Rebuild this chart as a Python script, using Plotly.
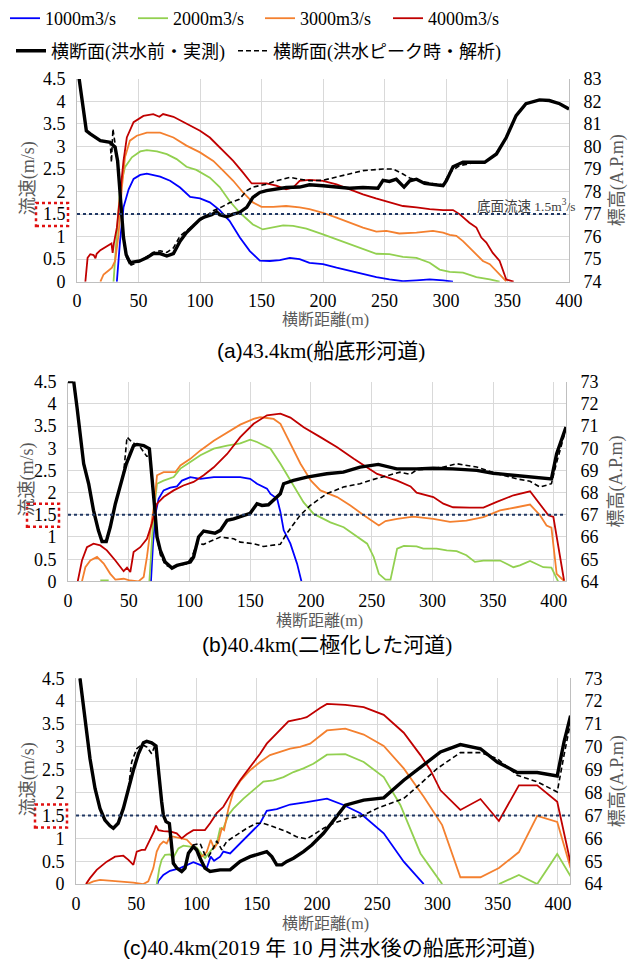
import plotly.graph_objects as go

# ---------------- DATA ----------------
SERIES = ["1000m3/s", "2000m3/s", "3000m3/s", "4000m3/s"]
BED_NAMES = ["横断面(洪水前・実測)", "横断面(洪水ピーク時・解析)"]
THRESHOLD = 1.5

# Panel (a) 43.4km
A_bed_x = [1.5, 7.6, 10.8, 19, 27, 31, 33, 35, 37.8, 40, 43, 51, 57, 62, 67.6, 73, 78.4, 83.8, 89, 94.6,
           100, 104, 109.5, 113.5, 116, 121.6, 127, 132, 138, 143, 148.6, 154, 162, 170, 181, 189, 200, 211,
           221.7, 232.5, 244.7, 248.8, 254, 259.6, 265.9, 270.5, 276, 282.6, 289.4, 297.6, 300.3, 305.7,
           313.8, 324.7, 331.4, 341, 349, 357, 365, 376, 384, 392.4, 400]
A_bed_e = [83.1, 80.7, 80.56, 80.26, 80.19, 79.96, 79.37, 77.9, 75.96, 75.2, 74.85, 74.92, 75.07, 75.25, 75.25,
           75.14, 75.25, 75.8, 76.18, 76.48, 76.77, 76.88, 76.97, 77.1, 76.97, 76.88, 77.0, 77.07, 77.3, 77.74,
           77.96, 78.04, 78.1, 78.18, 78.2, 78.3, 78.26, 78.2, 78.15, 78.18, 78.15, 78.5, 78.45, 78.55, 78.2,
           78.48, 78.55, 78.36, 78.3, 78.26, 78.48, 79.1, 79.3, 79.3, 79.3, 79.67, 80.4, 81.37, 81.9, 82.07,
           82.04, 81.9, 81.67]
A_peak_x = [1.5, 7.6, 10.8, 19, 27, 28, 29.2, 31, 33, 35, 37.8, 40, 44, 51, 57, 62, 67.6, 73, 78.4, 83.8,
            91, 100, 110.8, 117, 124, 132, 138, 143, 154, 162, 173, 181, 189, 200, 216, 232.5, 248.8, 257, 265,
            270.5, 278.6, 289, 297.6, 303, 311, 319, 324.7, 331.4, 341, 349, 357, 365, 376, 384, 392.4, 400]
A_peak_e = [83.1, 80.7, 80.56, 80.26, 80.19, 79.3, 80.78, 80.0, 79.37, 77.9, 75.96, 75.1, 74.74, 74.9, 75.1,
            75.3, 75.37, 75.3, 75.5, 76.03, 76.35, 76.7, 77.15, 77.3, 77.5, 77.66, 78.04, 78.2, 78.33, 78.48,
            78.63, 78.55, 78.48, 78.5, 78.7, 78.93, 79.0, 79.0, 78.78, 78.6, 78.48, 78.36, 78.3, 78.85, 79.15,
            79.25, 79.3, 79.3, 79.67, 80.4, 81.37, 81.9, 82.07, 82.04, 81.9, 81.67]
A_q1000_x = [32.4, 35, 37.8, 42, 46, 51.4, 56.8, 67.6, 75.7, 83.8, 92, 100, 108, 116, 124, 132.4, 140.5, 148.6,
             156.8, 164.9, 173, 181, 189, 200, 211, 221.7, 232.5, 243.4, 254, 265, 276, 286.7, 297.6, 305.7]
A_q1000_v = [0, 0.9, 1.65, 2.05, 2.28, 2.37, 2.4, 2.33, 2.24, 2.09, 1.88, 1.85, 1.76, 1.59, 1.35, 0.98, 0.68,
             0.47, 0.46, 0.48, 0.53, 0.5, 0.42, 0.39, 0.31, 0.24, 0.18, 0.1, 0.05, 0.01, 0.03, 0.05, 0.03, 0]
A_q2000_x = [29.7, 31, 32.4, 35, 39, 44.6, 51.4, 56.8, 65, 73, 81, 89, 97, 108, 116, 124, 132.4, 143, 151,
             156.8, 167.6, 175.7, 186.5, 200, 211, 221.7, 232.5, 243.4, 254, 265, 276, 286.7, 294.8, 303,
             313.8, 324.7, 335.6, 343.6]
A_q2000_v = [0, 0.53, 1.2, 2.09, 2.54, 2.76, 2.89, 2.92, 2.89, 2.83, 2.72, 2.55, 2.48, 2.31, 2.1, 1.79, 1.53,
             1.27, 1.16, 1.19, 1.25, 1.24, 1.18, 1.05, 0.94, 0.83, 0.72, 0.62, 0.61, 0.55, 0.53, 0.42, 0.27,
             0.22, 0.2, 0.1, 0.05, 0]
A_q3000_x = [19, 21.6, 25.7, 28.4, 31, 33.8, 36.5, 39, 43, 48.6, 56.8, 67.6, 78.4, 89, 100, 110.8, 119, 127,
             135, 143, 150, 159.5, 170, 181, 189, 200, 211, 221.7, 232.5, 243.4, 251.5, 262, 276, 289.4, 297.6,
             303, 308.4, 313.8, 322, 330, 335.6, 341, 349]
A_q3000_v = [0, 0.16, 0.25, 0.31, 0.46, 1.05, 2.09, 2.76, 3.13, 3.24, 3.31, 3.31, 3.2, 3.02, 2.87, 2.68, 2.46,
             2.24, 1.98, 1.76, 1.66, 1.66, 1.68, 1.65, 1.61, 1.53, 1.42, 1.31, 1.2, 1.11, 1.13, 1.07, 1.09, 1.13,
             1.09, 1.04, 1.02, 0.9, 0.68, 0.46, 0.39, 0.24, 0.01]
A_q4000_x = [6.8, 8.6, 10.8, 13.5, 15, 16, 19, 24, 28, 29, 30, 32.4, 35, 37.8, 40.5, 46, 54, 62, 67, 70, 78.4,
             89, 94.6, 100, 108, 116, 127, 135, 142, 148.6, 154, 162, 170, 175.7, 181, 189, 200, 211, 221.7,
             232.5, 243, 254, 265, 276, 286.7, 297.6, 305.7, 311, 319, 324.7, 328.7, 332.8, 338, 343.6, 349, 355]
A_q4000_v = [0, 0.53, 0.61, 0.59, 0.52, 0.62, 0.7, 0.79, 0.85, 0.64, 0.85, 1.2, 1.94, 2.68, 3.2, 3.54, 3.68,
             3.72, 3.66, 3.72, 3.66, 3.5, 3.42, 3.35, 3.2, 2.98, 2.68, 2.42, 2.18, 2.18, 2.18, 2.13, 2.05, 2.09,
             2.24, 2.26, 2.24, 2.16, 2.05, 1.94, 1.85, 1.76, 1.68, 1.65, 1.61, 1.59, 1.59, 1.5, 1.31, 1.2, 0.98,
             0.87, 0.64, 0.46, 0.05, 0]

# Panel (b) 40.4km
B_bed_x = [0, 4.7, 7.4, 10, 12.9, 17, 21, 25, 28, 31.5, 34.8, 39, 43, 48, 51.3, 54, 56.8, 62.3, 67, 69, 71.3,
           73.3, 76, 80, 85.6, 89.7, 95, 100.7, 103.4, 107.5, 111.7, 115.8, 121, 125.4, 131, 136.4, 144.6, 150,
           155.6, 159.7, 165, 170.6, 174.8, 177.5, 185.7, 196.7, 207.7, 213, 226.7, 240.4, 255.5, 270.6, 287,
           300.8, 317, 336.5, 350, 366.7, 383, 398, 402.3, 406.5, 410]
B_bed_e = [73, 73, 71.85, 70.5, 69.3, 68.4, 67.2, 66.3, 65.8, 65.8, 66.45, 67.5, 68.25, 69.3, 69.75, 70.12,
           70.17, 70.12, 69.97, 68.85, 67.35, 66.0, 65.4, 64.87, 64.6, 64.72, 64.8, 64.87, 65.1, 66.0, 66.27,
           66.22, 66.17, 66.3, 66.75, 66.82, 66.97, 67.07, 67.5, 67.42, 67.45, 67.72, 67.95, 68.4, 68.55, 68.7,
           68.8, 68.85, 68.92, 69.15, 69.27, 69.07, 69.07, 69.1, 69.07, 69.0, 68.87, 68.77, 68.7, 68.62, 69.75,
           70.35, 70.95]
B_peak_x = [0, 4.7, 7.4, 10, 12.9, 17, 21, 25, 28, 31.5, 34.8, 39, 43, 46, 48.6, 52.7, 59.5, 65, 67, 69, 71.3,
            73.3, 76, 80, 84, 90, 98, 102, 106, 111.7, 120, 125.4, 136.4, 141.8, 152.8, 161, 166.5, 174.8, 180,
            185.7, 191, 199.5, 213, 226.7, 240.4, 250, 262.4, 273.3, 281.6, 287, 298, 309, 320, 336.5, 353,
            369.4, 380.4, 388.6, 398, 402, 410]
B_peak_e = [73, 73, 71.85, 70.5, 69.3, 68.4, 67.2, 66.3, 65.8, 65.8, 66.45, 67.5, 68.25, 69.0, 70.5, 70.27,
            70.05, 69.62, 69.9, 68.85, 67.35, 66.0, 65.2, 64.75, 64.65, 64.7, 64.8, 65.1, 65.7, 65.67, 65.85,
            66.0, 65.92, 65.77, 65.7, 65.57, 65.62, 65.67, 66.15, 66.6, 66.97, 67.42, 67.95, 68.25, 68.4, 68.57,
            68.77, 68.92, 68.82, 69.02, 69.07, 69.15, 69.3, 69.15, 68.85, 68.62, 68.51, 68.25, 68.4, 69.3, 70.87]
B_q1000_x = [68.3, 70, 72, 74.6, 78.7, 84.2, 89.7, 93.8, 100.7, 109, 120, 131, 141.8, 150, 155.6, 163.8, 166.7,
             172.2, 174.9, 177.6, 183.1, 188.6, 192.2]
B_q1000_v = [0, 0.85, 1.52, 1.86, 2.05, 2.11, 2.14, 2.27, 2.35, 2.31, 2.35, 2.35, 2.35, 2.31, 2.2, 2.09, 1.97,
             1.86, 1.56, 1.15, 0.85, 0.4, 0]
B_q2000_x = [26.6, 33.5, None, 67, 69, 70.5, 73.3, 78.7, 87, 92.5, 100.7, 109, 120, 131, 141.8, 150, 155.6,
             163.8, 166.7, 174.9, 183.1, 194, 202.3, 216, 227, 238, 246.3, 251.7, 255.9, 261.4, 265.5, 271,
             276.5, 287, 292.5, 303.5, 311.8, 320, 328, 335, 342, 355.7, 366.7, 372, 380.4, 391.3, 398, 403.5]
B_q2000_v = [0.02, 0.02, None, 0, 0.85, 1.52, 2.2, 2.27, 2.35, 2.54, 2.69, 2.84, 2.99, 3.06, 3.11, 3.19, 3.14,
             3.03, 2.99, 2.65, 2.27, 1.78, 1.52, 1.33, 1.22, 1.0, 0.85, 0.55, 0.17, 0.04, 0.04, 0.74, 0.8, 0.79,
             0.74, 0.74, 0.7, 0.68, 0.59, 0.44, 0.47, 0.47, 0.32, 0.36, 0.46, 0.32, 0.31, 0]
B_q3000_x = [11.5, 14.3, 18.4, 23.9, 29.4, 34.8, 39, 45.8, 51.3, 58, 62.3, 65, 67.8, 71, 73.3, 78.7, 88.3, 92.5,
             100.7, 109, 120, 131, 141.8, 152.8, 158.3, 163.8, 169.3, 174.9, 183.1, 191.4, 200, 207.8, 221.6,
             232.5, 243.5, 255.9, 261.4, 271, 284.3, 300.8, 314.5, 328, 342, 355.7, 369.4, 380.4, 388.6, 394,
             398, 402.3, 406.5, 409]
B_q3000_v = [0, 0.32, 0.47, 0.55, 0.4, 0.17, 0.04, 0.06, 0.02, 0, 0.1, 0.55, 1.15, 1.75, 2.39, 2.46, 2.46, 2.61,
             2.76, 2.95, 3.17, 3.36, 3.53, 3.66, 3.7, 3.68, 3.66, 3.55, 3.1, 2.65, 2.27, 2.05, 1.9, 1.71, 1.49,
             1.26, 1.36, 1.41, 1.46, 1.41, 1.34, 1.37, 1.45, 1.6, 1.67, 1.73, 1.49, 1.26, 1.21, 0.17, 0.06, 0]
B_q4000_x = [8, 11.5, 15.6, 21, 26.6, 32, 39, 45.8, 48.6, 51.3, 54, 59.5, 65, 69, 73.3, 78.7, 87, 95, 103.4,
             111.7, 120, 131, 141.8, 152.8, 163.8, 174.9, 183.1, 194, 207.8, 221.6, 235.3, 246.3, 254.5, 271,
             282, 287, 300.8, 309, 317, 330.9, 342, 353, 366.7, 380.4, 388.6, 395.5, 399.6, 403.7, 408.4]
B_q4000_v = [0, 0.47, 0.77, 0.85, 0.81, 0.7, 0.47, 0.23, 0.31, 0.21, 0.66, 0.77, 0.96, 1.3, 1.75, 1.9, 2.05,
             2.16, 2.24, 2.39, 2.57, 2.87, 3.25, 3.55, 3.74, 3.78, 3.69, 3.47, 3.25, 3.02, 2.76, 2.57, 2.42,
             2.27, 2.14, 2.0, 1.9, 1.75, 1.67, 1.66, 1.66, 1.79, 1.94, 2.03, 1.75, 1.49, 1.45, 0.77, 0.02]

# Panel (c) 40.4km after Oct 2019 flood
C_bed_x = [3.3, 7.5, 11.6, 15.8, 19.9, 24, 28.2, 31, 35, 39.3, 43.5, 47.6, 51.8, 55.9, 58.7, 62.8, 66.4, 68.4,
           71.1, 72.5, 74.7, 77.5, 79.4, 80.8, 83.6, 87.7, 90.5, 93.3, 97.4, 100.2, 103, 107, 111.3, 119.6,
           127.9, 136.2, 144.5, 152.8, 158.3, 162.5, 166.6, 170.8, 175, 180.5, 188.8, 195.7, 205.4, 215, 223.5,
           238.8, 255.4, 272, 285.9, 302.5, 319, 335.7, 349.6, 366.2, 382.8, 399.4, 405, 410.5]
C_bed_e = [73, 71.08, 69.49, 68.18, 67.31, 66.8, 66.55, 66.44, 66.66, 67.31, 68.18, 68.98, 69.7, 70.18, 70.24,
           70.18, 70.04, 68.9, 67.6, 67.02, 66.73, 66.65, 65.57, 64.91, 64.7, 64.55, 64.7, 65.35, 65.64, 65.49,
           65.13, 64.7, 64.55, 64.62, 64.62, 64.99, 65.2, 65.35, 65.42, 65.2, 64.84, 64.84, 64.99, 65.13, 65.42,
           65.71, 66.22, 66.87, 67.45, 67.67, 67.77, 68.54, 69.12, 69.78, 70.1, 69.92, 69.34, 68.88, 68.88,
           68.73, 70.21, 71.37]
C_peak_x = [3.3, 7.5, 11.6, 15.8, 19.9, 24, 28.2, 31, 35, 39.3, 43.5, 46.2, 50.4, 54.5, 58.7, 62.8, 65.6, 68.4,
            71.1, 72.5, 74.7, 77.5, 79.4, 80.8, 83.6, 87.7, 90.5, 93.3, 97.4, 103, 107, 110, 114, 116.8, 121,
            125, 133.4, 141.7, 150, 155.5, 163.9, 175, 183, 191.5, 205.5, 213.9, 225, 236, 249.9, 261, 272, 283,
            299.7, 319, 335.7, 349.6, 366.2, 382.8, 399.4, 405, 410.5]
C_peak_e = [73, 71.08, 69.49, 68.18, 67.31, 66.8, 66.55, 66.44, 66.66, 67.31, 68.18, 69.34, 69.92, 70.1, 70.0,
            69.7, 70.07, 68.9, 67.6, 67.02, 66.73, 66.65, 65.57, 64.91, 64.7, 64.55, 64.7, 65.35, 65.71, 65.78,
            65.28, 65.2, 65.57, 65.89, 65.5, 65.86, 66.15, 66.44, 66.66, 66.66, 66.51, 66.29, 66.07, 65.97,
            66.44, 66.66, 66.87, 66.95, 67.31, 67.53, 67.74, 68.25, 69.05, 69.75, 69.75, 69.49, 68.76, 68.47,
            68.03, 69.63, 71.08]
C_q1000_x = [67.5, 68.4, 72.5, 78, 86.4, 93.3, 97.4, 103, 108.5, 111.8, 114.6, 119.6, 122.3, 127.9, 136.2,
             144.5, 152.8, 158.3, 166.6, 177.7, 191.5, 208.3, 222, 236, 255.4, 272, 288.6]
C_q1000_v = [0, 0.07, 0.2, 0.29, 0.35, 0.44, 0.48, 0.42, 0.35, 0.6, 0.51, 0.6, 0.71, 0.67, 0.89, 1.09, 1.33,
             1.6, 1.64, 1.74, 1.79, 1.87, 1.73, 1.55, 1.11, 0.49, 0]
C_q2000_x = [67, 69.2, 71.1, 73.9, 78, 80.8, 85, 89.1, 94.7, 100.2, 104.3, 107.1, 111.3, 116.8, 119.6, 122.3,
             126.5, 130.6, 139, 147.2, 155.5, 163.9, 172.2, 180.5, 188.8, 197, 208.3, 223.5, 238.8, 255.4,
             269.2, 285.9, 303.9, None, 351, 367.6, 382.8, 399.4, 410.5]
C_q2000_v = [0, 0.35, 0.53, 0.64, 0.65, 0.58, 0.78, 0.84, 0.82, 0.8, 0.65, 0.57, 0.71, 0.89, 1.22, 1.22, 1.51,
             1.65, 1.87, 2.05, 2.24, 2.27, 2.34, 2.45, 2.53, 2.63, 2.83, 2.84, 2.67, 2.34, 1.73, 0.67, 0, None,
             0, 0.2, 0, 0.66, 0.17]
C_q3000_x = [9.4, 14.4, 19.9, 31, 39.3, 47.6, 55.9, 60, 64.2, 67, 69.7, 72.5, 75.3, 78, 80.8, 86.4, 92, 98.8,
             104.3, 108.5, 111.8, 114.6, 118.2, 121, 122.9, 126.5, 130.6, 136.2, 144.5, 152.8, 161, 169.4,
             177.7, 186, 194.3, 208.3, 223.5, 238.8, 255.4, 272, 288.6, 303.9, 319, 335.7, 351, 367.6, 382.8,
             399.4, 410.5]
C_q3000_v = [0, 0.06, 0.09, 0.07, 0.04, 0.03, 0, 0.06, 0.35, 0.71, 0.86, 0.93, 0.89, 1.04, 1.04, 1.0, 0.97,
             0.78, 0.6, 0.7, 0.97, 0.78, 0.93, 1.22, 1.18, 1.65, 2.02, 2.25, 2.49, 2.67, 2.82, 2.89, 2.96, 3.0,
             3.07, 3.36, 3.4, 3.27, 3.02, 2.53, 1.91, 1.29, 0.15, 0.15, 0.35, 0.7, 1.49, 1.36, 0.35]
C_q4000_x = [8.3, 11.6, 17.2, 25.5, 32.4, 39.3, 43.5, 47.6, 50.4, 54.5, 57.3, 61.4, 64.8, 66.4, 68.4, 72.5, 78,
             83.6, 87.7, 91.9, 97.4, 103, 107, 111.3, 116.8, 122.3, 127.9, 136.2, 144.5, 152.8, 158.3, 166.6,
             176.3, 186, 191.5, 202.6, 208.3, 223.5, 238.8, 255.4, 272, 285.9, 294.2, 302.5, 319, 335.7, 351,
             367.6, 382.8, 399.4, 410.5]
C_q4000_v = [0, 0.13, 0.31, 0.49, 0.6, 0.62, 0.53, 0.42, 0.71, 0.75, 0.75, 0.97, 1.15, 1.28, 1.18, 1.16, 1.15,
             1.11, 1.0, 1.09, 1.18, 1.18, 1.18, 1.33, 1.55, 1.69, 1.94, 2.27, 2.56, 2.85, 3.07, 3.29, 3.56, 3.61,
             3.65, 3.85, 3.94, 3.92, 3.87, 3.7, 3.31, 2.82, 2.49, 2.05, 1.62, 1.86, 1.38, 2.16, 2.16, 1.8, 0.46]

CAPTIONS = ["(a)", "43.4km(船底形河道)", "(b)", "40.4km(二極化した河道)", "(c)", "40.4km(2019 年 10 月洪水後の船底形河道)"]

# ---------------- STYLE / LAYOUT ----------------
W, H = 638, 964
SERIF = "Liberation Serif, 'Times New Roman', 'Noto Sans CJK JP', serif"
COLORS = ["#0000FF", "#92D050", "#F4802F", "#C00000"]
GRID = "#D9D9D9"
GRAY = "#595959"
TICK = 18
NOTICK = "rgba(0,0,0,0)"


def fx(p):
    return p / W


def fy(p):
    return 1 - p / H


panels = [
    dict(l=77, r=569, t=78, b=281, xmax=400, erange=[74, 83],
         vel=[(A_q1000_x, A_q1000_v), (A_q2000_x, A_q2000_v), (A_q3000_x, A_q3000_v), (A_q4000_x, A_q4000_v)],
         bed=(A_bed_x, A_bed_e), peak=(A_peak_x, A_peak_e), xt=319, cap=350, capx=321, cap_i=0),
    dict(l=68, r=566, t=381, b=581, xmax=410, erange=[64, 73],
         vel=[(B_q1000_x, B_q1000_v), (B_q2000_x, B_q2000_v), (B_q3000_x, B_q3000_v), (B_q4000_x, B_q4000_v)],
         bed=(B_bed_x, B_bed_e), peak=(B_peak_x, B_peak_e), xt=621, cap=645, capx=327, cap_i=2),
    dict(l=76, r=570, t=678, b=884, xmax=410, erange=[64, 73],
         vel=[(C_q1000_x, C_q1000_v), (C_q2000_x, C_q2000_v), (C_q3000_x, C_q3000_v), (C_q4000_x, C_q4000_v)],
         bed=(C_bed_x, C_bed_e), peak=(C_peak_x, C_peak_e), xt=924, cap=948, capx=329, cap_i=4),
]

# legend placement (px): each entry has its own legend box
LEG_POS = [(5, 18), (133, 18), (260, 18), (388, 18), (11, 51), (233, 51)]

fig = go.Figure()
layout = dict(width=W, height=H, margin=dict(l=0, r=0, t=0, b=0), paper_bgcolor="white",
              plot_bgcolor="white", font=dict(family=SERIF, size=TICK, color="black"))
annotations = []
shapes = []


def leg_key(k):
    return "legend" if k == 0 else f"legend{k + 1}"


def note(text, x, y, size, color, angle=0, xanchor="center"):
    return dict(text=text, xref="paper", yref="paper", x=fx(x), y=fy(y), xanchor=xanchor, yanchor="middle",
                textangle=angle, showarrow=False, font=dict(size=size, color=color, family=SERIF))


for i, p in enumerate(panels):
    n = i + 1
    xa = "x" if n == 1 else f"x{n}"
    yl = "y" if n == 1 else f"y{2 * n - 1}"
    yr = f"y{2 * n}"
    xkey = "xaxis" if n == 1 else f"xaxis{n}"
    ylkey = "yaxis" if n == 1 else f"yaxis{2 * n - 1}"
    yrkey = f"yaxis{2 * n}"

    layout[xkey] = dict(domain=[fx(p["l"]), fx(p["r"])], anchor=yl, range=[0, p["xmax"]], dtick=50, tick0=0,
                        showgrid=True, gridcolor=GRID, gridwidth=1, zeroline=False, showline=True,
                        linecolor="#BFBFBF", linewidth=1, ticks="outside", ticklen=3, tickcolor=NOTICK,
                        tickfont=dict(size=TICK, family=SERIF, color="black"), automargin=False)
    layout[ylkey] = dict(domain=[fy(p["b"]), fy(p["t"])], anchor=xa, range=[0, 4.5], dtick=0.5, tick0=0,
                         showgrid=True, gridcolor=GRID, gridwidth=1, zeroline=False, showline=True,
                         linecolor="#BFBFBF", linewidth=1, ticks="outside", ticklen=7, tickcolor=NOTICK,
                         tickfont=dict(size=TICK, family=SERIF, color="black"), automargin=False)
    layout[yrkey] = dict(domain=[fy(p["b"]), fy(p["t"])], anchor=xa, overlaying=yl, side="right",
                         range=p["erange"], dtick=1, showgrid=False, zeroline=False, showline=True,
                         linecolor="#BFBFBF", linewidth=1, ticks="outside", ticklen=10, tickcolor=NOTICK,
                         tickfont=dict(size=TICK, family=SERIF, color="black"), automargin=False)

    for k, (vx, vv) in enumerate(p["vel"]):
        fig.add_trace(go.Scatter(x=vx, y=vv, mode="lines", name=SERIES[k], xaxis=xa, yaxis=yl,
                                 line=dict(color=COLORS[k], width=1.8), showlegend=(n == 1),
                                 legend=leg_key(k), connectgaps=False, hoverinfo="skip"))
    bx, be = p["bed"]
    fig.add_trace(go.Scatter(x=bx, y=be, mode="lines", name=BED_NAMES[0], xaxis=xa, yaxis=yr,
                             line=dict(color="black", width=3.4), showlegend=(n == 1), legend=leg_key(4),
                             hoverinfo="skip"))
    kx, ke = p["peak"]
    fig.add_trace(go.Scatter(x=kx, y=ke, mode="lines", name=BED_NAMES[1], xaxis=xa, yaxis=yr,
                             line=dict(color="black", width=1.6, dash="5px,3px"), showlegend=(n == 1),
                             legend=leg_key(5), hoverinfo="skip"))

    # 1.5 m/s bottom-velocity reference line
    shapes.append(dict(type="line", xref=f"{xa} domain", yref=yl, x0=0, x1=1, y0=THRESHOLD, y1=THRESHOLD,
                       line=dict(color="#203864", width=2, dash="dot"), layer="above"))
    # red dotted box around the 1.5 tick label
    yc = p["b"] - (p["b"] - p["t"]) * THRESHOLD / 4.5
    shapes.append(dict(type="rect", xref="paper", yref="paper", x0=fx(p["l"] - 41), x1=fx(p["l"] - 9),
                       y0=fy(yc + 12), y1=fy(yc - 11), line=dict(color="#E01010", width=2.5, dash="dot")))

    ymid = (p["t"] + p["b"]) / 2
    annotations.append(note("流速(m/s)", 28, ymid - 2, 18, GRAY, angle=-90))
    annotations.append(note("標高(A.P.m)", 617, ymid, 18, GRAY, angle=-90))
    annotations.append(note("横断距離(m)", (p["l"] + p["r"]) / 2 + 2, p["xt"], 16, GRAY))
    ci = p["cap_i"]
    annotations.append(note(f"<span style='font-family:Liberation Sans'>{CAPTIONS[ci]}</span>{CAPTIONS[ci + 1]}",
                            p["capx"], p["cap"], 21, "black"))

annotations.append(note("底面流速 1.5m<sup>3</sup>/s", 578, 205, 13.5, "#404040", xanchor="right"))

for k, (lx, ly) in enumerate(LEG_POS):
    layout[leg_key(k)] = dict(orientation="h", x=fx(lx), y=fy(ly), xanchor="left", yanchor="middle",
                              font=dict(size=18, family=SERIF), bgcolor="rgba(0,0,0,0)", itemwidth=30)

layout["annotations"] = annotations
layout["shapes"] = shapes
fig.update_layout(**layout)
fig.write_html("out.html", config={"displayModeBar": False},
               post_script="document.body.style.margin='0';document.body.style.overflow='hidden';")
